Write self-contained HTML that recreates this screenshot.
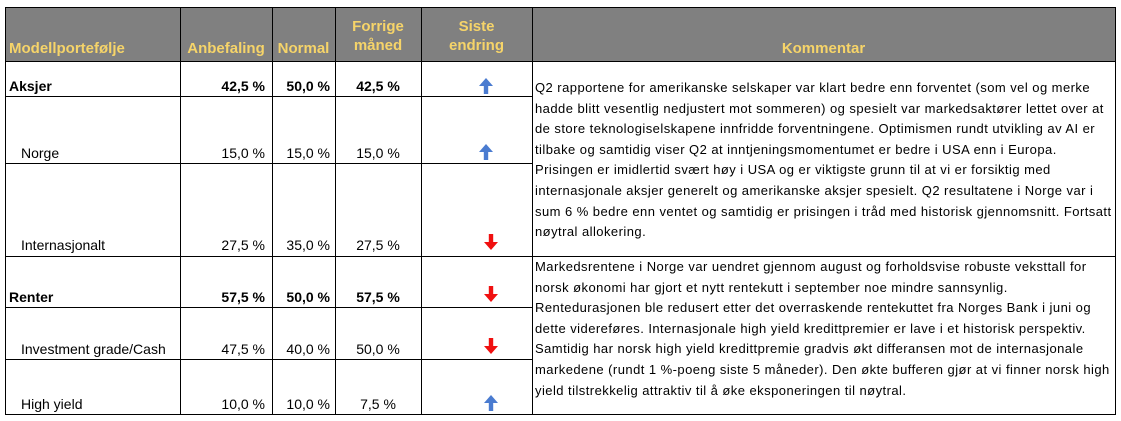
<!DOCTYPE html>
<html><head><meta charset="utf-8">
<style>
body{margin:0;background:#fff;width:1121px;height:421px;position:relative;overflow:hidden;font-family:"Liberation Sans",sans-serif;color:#000}
.a{position:absolute;white-space:nowrap}
.hd{position:absolute;left:5px;top:7px;width:1110px;height:54px;background:#808080}
.ht{position:absolute;color:#f6d469;font-weight:bold;font-size:15px;text-align:center;line-height:19px}
.ln{position:absolute;background:#000}
.v{position:absolute;font-size:14px;text-align:right;line-height:16px;white-space:nowrap}
.b{font-weight:bold}
.c{position:absolute;left:535px;font-size:13px;letter-spacing:0.45px;line-height:20.6px;white-space:nowrap}
</style></head><body>
<div class="hd"></div>
<div class="ht" style="left:9px;top:39px;text-align:left">Modellportefølje</div>
<div class="ht" style="left:180px;width:92px;top:39px">Anbefaling</div>
<div class="ht" style="left:272px;width:63px;top:39px">Normal</div>
<div class="ht" style="left:335px;width:86px;top:17px">Forrige<br>måned</div>
<div class="ht" style="left:421px;width:111px;top:17px">Siste<br>endring</div>
<div class="ht" style="left:532px;width:583px;top:39px">Kommentar</div>

<div class="ln" style="left:5px;top:7px;width:1110px;height:1px"></div>
<div class="ln" style="left:5px;top:61px;width:1110px;height:1px"></div>
<div class="ln" style="left:5px;top:96px;width:527px;height:1px"></div>
<div class="ln" style="left:5px;top:163px;width:527px;height:1px"></div>
<div class="ln" style="left:5px;top:256px;width:1110px;height:1px"></div>
<div class="ln" style="left:5px;top:307px;width:527px;height:1px"></div>
<div class="ln" style="left:5px;top:359px;width:527px;height:1px"></div>
<div class="ln" style="left:5px;top:414px;width:1110px;height:1px"></div>
<div class="ln" style="left:5px;top:7px;width:1px;height:408px"></div>
<div class="ln" style="left:180px;top:7px;width:1px;height:408px"></div>
<div class="ln" style="left:272px;top:7px;width:1px;height:408px"></div>
<div class="ln" style="left:335px;top:7px;width:1px;height:408px"></div>
<div class="ln" style="left:421px;top:7px;width:1px;height:408px"></div>
<div class="ln" style="left:532px;top:7px;width:1px;height:408px"></div>
<div class="ln" style="left:1115px;top:7px;width:1px;height:408px"></div>

<svg width="0" height="0" style="position:absolute">
<defs>
<g id="up"><path d="M0,-8 L7,0 L2.2,0 L2.2,8 L-2.2,8 L-2.2,0 L-7,0 Z" fill="#4a7bd0"/></g>
<g id="dn"><path d="M0,8 L7,0 L2.2,0 L2.2,-8 L-2.2,-8 L-2.2,0 L-7,0 Z" fill="#f01010"/></g>
</defs></svg>

<div class="v b" style="left:9px;top:78px;text-align:left">Aksjer</div>
<div class="v b" style="left:180px;width:85px;top:78px">42,5 %</div>
<div class="v b" style="left:272px;width:58px;top:78px">50,0 %</div>
<div class="v b" style="left:335px;width:86px;top:78px;text-align:center">42,5 %</div>
<svg class="a" style="left:476px;top:77px" width="20" height="18"><use href="#up" x="10" y="9"/></svg>

<div class="v" style="left:21px;top:145px;text-align:left">Norge</div>
<div class="v" style="left:180px;width:85px;top:145px">15,0 %</div>
<div class="v" style="left:272px;width:58px;top:145px">15,0 %</div>
<div class="v" style="left:335px;width:86px;top:145px;text-align:center">15,0 %</div>
<svg class="a" style="left:476px;top:143px" width="20" height="18"><use href="#up" x="10" y="9"/></svg>

<div class="v" style="left:21px;top:237px;text-align:left">Internasjonalt</div>
<div class="v" style="left:180px;width:85px;top:237px">27,5 %</div>
<div class="v" style="left:272px;width:58px;top:237px">35,0 %</div>
<div class="v" style="left:335px;width:86px;top:237px;text-align:center">27,5 %</div>
<svg class="a" style="left:481px;top:233px" width="20" height="18"><use href="#dn" x="10" y="9"/></svg>

<div class="v b" style="left:9px;top:289px;text-align:left">Renter</div>
<div class="v b" style="left:180px;width:85px;top:289px">57,5 %</div>
<div class="v b" style="left:272px;width:58px;top:289px">50,0 %</div>
<div class="v b" style="left:335px;width:86px;top:289px;text-align:center">57,5 %</div>
<svg class="a" style="left:481px;top:285px" width="20" height="18"><use href="#dn" x="10" y="9"/></svg>

<div class="v" style="left:21px;top:341px;text-align:left">Investment grade/Cash</div>
<div class="v" style="left:180px;width:85px;top:341px">47,5 %</div>
<div class="v" style="left:272px;width:58px;top:341px">40,0 %</div>
<div class="v" style="left:335px;width:86px;top:341px;text-align:center">50,0 %</div>
<svg class="a" style="left:481px;top:337px" width="20" height="18"><use href="#dn" x="10" y="9"/></svg>

<div class="v" style="left:21px;top:396px;text-align:left">High yield</div>
<div class="v" style="left:180px;width:85px;top:396px">10,0 %</div>
<div class="v" style="left:272px;width:58px;top:396px">10,0 %</div>
<div class="v" style="left:335px;width:86px;top:396px;text-align:center">7,5 %</div>
<svg class="a" style="left:481px;top:394px" width="20" height="18"><use href="#up" x="10" y="9"/></svg>

<div class="c" style="top:78px">Q2 rapportene for amerikanske selskaper var klart bedre enn forventet (som vel og merke<br>hadde blitt vesentlig nedjustert mot sommeren) og spesielt var markedsaktører lettet over at<br>de store teknologiselskapene innfridde forventningene. Optimismen rundt utvikling av AI er<br>tilbake og samtidig viser Q2 at inntjeningsmomentumet er bedre i USA enn i Europa.<br>Prisingen er imidlertid svært høy i USA og er viktigste grunn til at vi er forsiktig med<br>internasjonale aksjer generelt og amerikanske aksjer spesielt. Q2 resultatene i Norge var i<br>sum 6 % bedre enn ventet og samtidig er prisingen i tråd med historisk gjennomsnitt. Fortsatt<br>nøytral allokering.</div>
<div class="c" style="top:257px">Markedsrentene i Norge var uendret gjennom august og forholdsvise robuste veksttall for<br>norsk økonomi har gjort et nytt rentekutt i september noe mindre sannsynlig.<br>Rentedurasjonen ble redusert etter det overraskende rentekuttet fra Norges Bank i juni og<br>dette videreføres. Internasjonale high yield kredittpremier er lave i et historisk perspektiv.<br>Samtidig har norsk high yield kredittpremie gradvis økt differansen mot de internasjonale<br>markedene (rundt 1 %-poeng siste 5 måneder). Den økte bufferen gjør at vi finner norsk high<br>yield tilstrekkelig attraktiv til å øke eksponeringen til nøytral.</div>
</body></html>
